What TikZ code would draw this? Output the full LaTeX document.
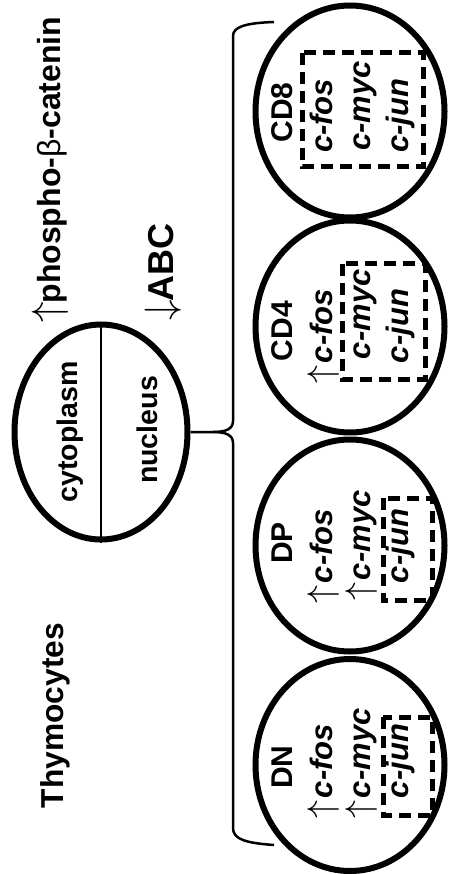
\RequirePackage{fix-cm}
\documentclass[tikz,border=0pt]{standalone}
\usepackage{fontspec}
\setmainfont{Liberation Sans}
\usetikzlibrary{shapes.geometric}
\newcommand\uparr{{\fontsize{36}{36}\selectfont$\uparrow$}\kern2pt}
\begin{document}
\begin{tikzpicture}[x=1pt,y=-1pt,
  cellshape/.style={ellipse, draw, line width=6pt, inner sep=0pt, minimum width=173pt, minimum height=215pt},
  stage/.style={ellipse, draw, line width=6pt, inner sep=0pt, minimum width=189pt, minimum height=212pt},
  rtxt/.style={rotate=90, inner sep=0pt, outer sep=0pt},
  gene/.style={rtxt, anchor=base west, font=\fontsize{31}{31}\selectfont\bfseries\itshape},
  stagelabel/.style={rtxt, anchor=base, font=\fontsize{30}{30}\selectfont\bfseries},
  dbox/.style={draw, line width=5pt, dash pattern=on 12pt off 7pt},
  thinline/.style={line width=2.5pt}]
\useasboundingbox[fill=white] (0,0) rectangle (450,874);

% titles
\node[rtxt, anchor=base west, font=\fontsize{31.7}{32}\selectfont\bfseries] (thy) at (63,808) {Thymocytes};
\node[rtxt, anchor=base west, font=\fontsize{32}{32}\selectfont\bfseries] (phos) at (60,322)
  {{\fontsize{41}{41}\selectfont$\uparrow$}\kern-2pt phospho-{\mdseries β}-catenin};
\node[rtxt, anchor=base west, font=\fontsize{36}{36}\selectfont\bfseries] (abc) at (173,320)
  {{\fontsize{41}{41}\selectfont$\downarrow$}\kern-2pt ABC};

% cell
\node[cellshape] (cell) at (101,432) {};
\draw[thinline] (cell.north) -- (cell.south);
\node[rtxt, anchor=base, font=\fontsize{28.5}{29}\selectfont\bfseries] (cyto) at (77.5,432) {cytoplasm};
\node[rtxt, anchor=base, font=\fontsize{28.5}{29}\selectfont\bfseries] (nuc) at (157,430) {nucleus};

% stages
\node[stage] (cd8) at (350,111.5) {};
\node[stage] (cd4) at (350,326.5) {};
\node[stage] (dp) at (350,545.5) {};
\node[stage] (dn) at (350,765) {};

% brace
\coordinate (tip) at (213,432);
\draw[thinline] (cell.east) -- (tip) .. controls (226,432) and (233,429) .. (233,421)
  -- (233,36) .. controls (233,27) and (245,23) .. (274,22);
\draw[thinline] (tip) .. controls (226,432) and (233,435) .. (233,443)
  -- (233,828) .. controls (233,839) and (245,843) .. (274,845);

% CD8
\node[stagelabel] (cd8l) at (292,112.5) {CD8};
\node[gene] (cd8f) at (332,153) {c-fos};
\node[gene] (cd8m) at (370,151) {c-myc};
\node[gene] (cd8j) at (408,153) {c-jun};
\draw[dbox] (302,53) rectangle (423,167);

% CD4
\node[stagelabel] (cd4l) at (292,331) {CD4};
\node[gene] (cd4f) at (332,383) {\uparr c-fos};
\node[gene] (cd4m) at (370,359) {c-myc};
\node[gene] (cd4j) at (408,363) {c-jun};
\draw[dbox] (342,264) rectangle (425,379);

% DP
\node[stagelabel] (dpl) at (292,543) {DP};
\node[gene] (dpf) at (332,603) {\uparr c-fos};
\node[gene] (dpm) at (370,600) {\uparr c-myc};
\node[gene] (dpj) at (408,583) {c-jun};
\draw[dbox] (383,498) rectangle (432,600);

% DN
\node[stagelabel] (dnl) at (292,767) {DN};
\node[gene] (dnf) at (332,818) {\uparr c-fos};
\node[gene] (dnm) at (370,818) {\uparr c-myc};
\node[gene] (dnj) at (408,798) {c-jun};
\draw[dbox] (383,717) rectangle (432,815);
\end{tikzpicture}
\end{document}
